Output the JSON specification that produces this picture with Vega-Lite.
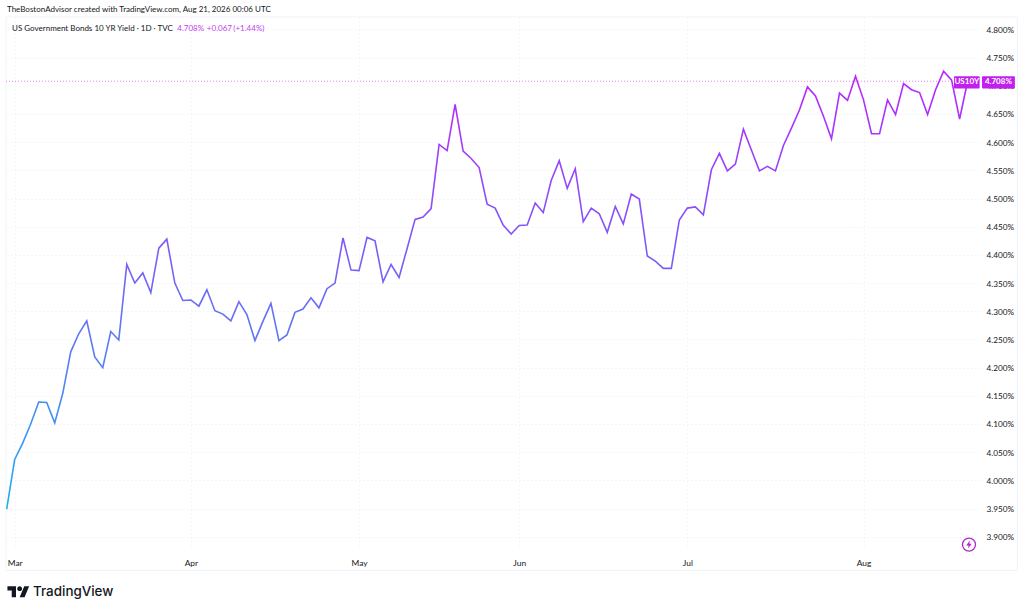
{
  "$schema": "https://vega.github.io/schema/vega-lite/v6.json",
  "width": 974,
  "height": 531,
  "autosize": "none",
  "padding": {"left": 6, "top": 17, "right": 44, "bottom": 64},
  "background": "#ffffff",
  "config": {"view": {"stroke": null}, "font": "Lato"},
  "title": {
    "text": "TheBostonAdvisor created with TradingView.com, Aug 21, 2026 00:06 UTC",
    "anchor": "start",
    "frame": "group",
    "dx": 1,
    "offset": 2.5,
    "font": "Lato",
    "fontSize": 8,
    "fontWeight": "normal",
    "color": "#131722"
  },
  "datasets": {
    "us10y": [
      {"bar": 0, "date": "2026-02-27", "yield": 3.949},
      {"bar": 1, "date": "2026-03-02", "yield": 4.037},
      {"bar": 2, "date": "2026-03-03", "yield": 4.066},
      {"bar": 3, "date": "2026-03-04", "yield": 4.1},
      {"bar": 4, "date": "2026-03-05", "yield": 4.139},
      {"bar": 5, "date": "2026-03-06", "yield": 4.138},
      {"bar": 6, "date": "2026-03-09", "yield": 4.102},
      {"bar": 7, "date": "2026-03-10", "yield": 4.154},
      {"bar": 8, "date": "2026-03-11", "yield": 4.228},
      {"bar": 9, "date": "2026-03-12", "yield": 4.26},
      {"bar": 10, "date": "2026-03-13", "yield": 4.283},
      {"bar": 11, "date": "2026-03-16", "yield": 4.219},
      {"bar": 12, "date": "2026-03-17", "yield": 4.2},
      {"bar": 13, "date": "2026-03-18", "yield": 4.264},
      {"bar": 14, "date": "2026-03-19", "yield": 4.249},
      {"bar": 15, "date": "2026-03-20", "yield": 4.383},
      {"bar": 16, "date": "2026-03-23", "yield": 4.35},
      {"bar": 17, "date": "2026-03-24", "yield": 4.368},
      {"bar": 18, "date": "2026-03-25", "yield": 4.333},
      {"bar": 19, "date": "2026-03-26", "yield": 4.412},
      {"bar": 20, "date": "2026-03-27", "yield": 4.428},
      {"bar": 21, "date": "2026-03-30", "yield": 4.35},
      {"bar": 22, "date": "2026-03-31", "yield": 4.319},
      {"bar": 23, "date": "2026-04-01", "yield": 4.32},
      {"bar": 24, "date": "2026-04-02", "yield": 4.309},
      {"bar": 25, "date": "2026-04-06", "yield": 4.338},
      {"bar": 26, "date": "2026-04-07", "yield": 4.301},
      {"bar": 27, "date": "2026-04-08", "yield": 4.295},
      {"bar": 28, "date": "2026-04-09", "yield": 4.283},
      {"bar": 29, "date": "2026-04-10", "yield": 4.317},
      {"bar": 30, "date": "2026-04-13", "yield": 4.294},
      {"bar": 31, "date": "2026-04-14", "yield": 4.248},
      {"bar": 32, "date": "2026-04-15", "yield": 4.282},
      {"bar": 33, "date": "2026-04-16", "yield": 4.314},
      {"bar": 34, "date": "2026-04-17", "yield": 4.248},
      {"bar": 35, "date": "2026-04-20", "yield": 4.258},
      {"bar": 36, "date": "2026-04-21", "yield": 4.298},
      {"bar": 37, "date": "2026-04-22", "yield": 4.304},
      {"bar": 38, "date": "2026-04-23", "yield": 4.324},
      {"bar": 39, "date": "2026-04-24", "yield": 4.306},
      {"bar": 40, "date": "2026-04-27", "yield": 4.34},
      {"bar": 41, "date": "2026-04-28", "yield": 4.35},
      {"bar": 42, "date": "2026-04-29", "yield": 4.43},
      {"bar": 43, "date": "2026-04-30", "yield": 4.373},
      {"bar": 44, "date": "2026-05-01", "yield": 4.372},
      {"bar": 45, "date": "2026-05-04", "yield": 4.431},
      {"bar": 46, "date": "2026-05-05", "yield": 4.425},
      {"bar": 47, "date": "2026-05-06", "yield": 4.352},
      {"bar": 48, "date": "2026-05-07", "yield": 4.383},
      {"bar": 49, "date": "2026-05-08", "yield": 4.36},
      {"bar": 50, "date": "2026-05-11", "yield": 4.411},
      {"bar": 51, "date": "2026-05-12", "yield": 4.463},
      {"bar": 52, "date": "2026-05-13", "yield": 4.467},
      {"bar": 53, "date": "2026-05-14", "yield": 4.482},
      {"bar": 54, "date": "2026-05-15", "yield": 4.596},
      {"bar": 55, "date": "2026-05-18", "yield": 4.585},
      {"bar": 56, "date": "2026-05-19", "yield": 4.667},
      {"bar": 57, "date": "2026-05-20", "yield": 4.584},
      {"bar": 58, "date": "2026-05-21", "yield": 4.571},
      {"bar": 59, "date": "2026-05-22", "yield": 4.555},
      {"bar": 60, "date": "2026-05-26", "yield": 4.49},
      {"bar": 61, "date": "2026-05-27", "yield": 4.483},
      {"bar": 62, "date": "2026-05-28", "yield": 4.453},
      {"bar": 63, "date": "2026-05-29", "yield": 4.437},
      {"bar": 64, "date": "2026-06-01", "yield": 4.452},
      {"bar": 65, "date": "2026-06-02", "yield": 4.453},
      {"bar": 66, "date": "2026-06-03", "yield": 4.492},
      {"bar": 67, "date": "2026-06-04", "yield": 4.475},
      {"bar": 68, "date": "2026-06-05", "yield": 4.532},
      {"bar": 69, "date": "2026-06-08", "yield": 4.567},
      {"bar": 70, "date": "2026-06-09", "yield": 4.518},
      {"bar": 71, "date": "2026-06-10", "yield": 4.553},
      {"bar": 72, "date": "2026-06-11", "yield": 4.459},
      {"bar": 73, "date": "2026-06-12", "yield": 4.483},
      {"bar": 74, "date": "2026-06-15", "yield": 4.473},
      {"bar": 75, "date": "2026-06-16", "yield": 4.44},
      {"bar": 76, "date": "2026-06-17", "yield": 4.486},
      {"bar": 77, "date": "2026-06-18", "yield": 4.455},
      {"bar": 78, "date": "2026-06-22", "yield": 4.508},
      {"bar": 79, "date": "2026-06-23", "yield": 4.499},
      {"bar": 80, "date": "2026-06-24", "yield": 4.398},
      {"bar": 81, "date": "2026-06-25", "yield": 4.389},
      {"bar": 82, "date": "2026-06-26", "yield": 4.376},
      {"bar": 83, "date": "2026-06-29", "yield": 4.376},
      {"bar": 84, "date": "2026-06-30", "yield": 4.462},
      {"bar": 85, "date": "2026-07-01", "yield": 4.483},
      {"bar": 86, "date": "2026-07-02", "yield": 4.485},
      {"bar": 87, "date": "2026-07-06", "yield": 4.471},
      {"bar": 88, "date": "2026-07-07", "yield": 4.551},
      {"bar": 89, "date": "2026-07-08", "yield": 4.58},
      {"bar": 90, "date": "2026-07-09", "yield": 4.549},
      {"bar": 91, "date": "2026-07-10", "yield": 4.561},
      {"bar": 92, "date": "2026-07-13", "yield": 4.623},
      {"bar": 93, "date": "2026-07-14", "yield": 4.586},
      {"bar": 94, "date": "2026-07-15", "yield": 4.549},
      {"bar": 95, "date": "2026-07-16", "yield": 4.557},
      {"bar": 96, "date": "2026-07-17", "yield": 4.549},
      {"bar": 97, "date": "2026-07-20", "yield": 4.594},
      {"bar": 98, "date": "2026-07-21", "yield": 4.625},
      {"bar": 99, "date": "2026-07-22", "yield": 4.657},
      {"bar": 100, "date": "2026-07-23", "yield": 4.698},
      {"bar": 101, "date": "2026-07-24", "yield": 4.682},
      {"bar": 102, "date": "2026-07-27", "yield": 4.646},
      {"bar": 103, "date": "2026-07-28", "yield": 4.606},
      {"bar": 104, "date": "2026-07-29", "yield": 4.687},
      {"bar": 105, "date": "2026-07-30", "yield": 4.674},
      {"bar": 106, "date": "2026-07-31", "yield": 4.717},
      {"bar": 107, "date": "2026-08-03", "yield": 4.675},
      {"bar": 108, "date": "2026-08-04", "yield": 4.615},
      {"bar": 109, "date": "2026-08-05", "yield": 4.615},
      {"bar": 110, "date": "2026-08-06", "yield": 4.675},
      {"bar": 111, "date": "2026-08-07", "yield": 4.649},
      {"bar": 112, "date": "2026-08-10", "yield": 4.704},
      {"bar": 113, "date": "2026-08-11", "yield": 4.693},
      {"bar": 114, "date": "2026-08-12", "yield": 4.688},
      {"bar": 115, "date": "2026-08-13", "yield": 4.649},
      {"bar": 116, "date": "2026-08-14", "yield": 4.693},
      {"bar": 117, "date": "2026-08-17", "yield": 4.726},
      {"bar": 118, "date": "2026-08-18", "yield": 4.71},
      {"bar": 119, "date": "2026-08-19", "yield": 4.641},
      {"bar": 120, "date": "2026-08-20", "yield": 4.708}
    ]
  },
  "encoding": {
    "x": {
      "field": "bar",
      "type": "quantitative",
      "scale": {"domain": [-0.084, 121.546], "nice": false, "zero": false},
      "axis": {
        "title": null,
        "values": [1, 23, 44, 64, 85, 107],
        "labelExpr": "datum.value == 1 ? 'Mar' : datum.value == 23 ? 'Apr' : datum.value == 44 ? 'May' : datum.value == 64 ? 'Jun' : datum.value == 85 ? 'Jul' : 'Aug'",
        "grid": true,
        "gridColor": "#E9ECF2",
        "gridDash": [1, 3],
        "domain": false,
        "ticks": false,
        "labelFont": "Lato",
        "labelFontSize": 8.4,
        "labelColor": "#131722",
        "labelPadding": 10,
        "labelFlush": false
      }
    },
    "y": {
      "field": "yield",
      "type": "quantitative",
      "scale": {"domain": [3.88, 4.822], "nice": false, "zero": false},
      "axis": {
        "title": null,
        "orient": "right",
        "values": [3.9, 3.95, 4.0, 4.05, 4.1, 4.15, 4.2, 4.25, 4.3, 4.35, 4.4, 4.45, 4.5, 4.55, 4.6, 4.65, 4.7, 4.75, 4.8],
        "labelExpr": "format(datum.value, '.3f') + '%'",
        "grid": true,
        "gridColor": "#E9ECF2",
        "gridDash": [1, 3],
        "domain": false,
        "ticks": false,
        "labelFont": "Lato",
        "labelFontSize": 8.2,
        "labelColor": "#131722",
        "labelPadding": 6,
        "labelOffset": 1
      }
    }
  },
  "layer": [
    {
      "data": {"values": [{"bar": -0.08, "bar2": 126.2, "yield": 4.822, "yield2": 3.84}]},
      "mark": {"type": "rect", "fill": null, "stroke": "#F0F3FA", "strokeWidth": 1},
      "encoding": {"x2": {"field": "bar2"}, "y2": {"field": "yield2"}}
    },
    {
      "data": {"values": [{"bar": -0.08, "bar2": 118.3, "yield": 4.708}]},
      "mark": {"type": "rule", "stroke": "#C21FEF", "strokeOpacity": 0.55, "strokeDash": [1, 2], "strokeWidth": 1},
      "encoding": {"x2": {"field": "bar2"}}
    },
    {
      "data": {"name": "us10y"},
      "mark": {
        "type": "line",
        "strokeWidth": 1.6,
        "strokeJoin": "miter",
        "color": {
          "gradient": "linear",
          "x1": 0, "y1": 1, "x2": 0, "y2": 0,
          "stops": [
            {"offset": 0, "color": "#22AEEF"},
            {"offset": 0.5, "color": "#6E68F6"},
            {"offset": 1, "color": "#BC24FF"}
          ]
        }
      }
    },
    {
      "data": {"values": [
        {"bar": 118.3, "bar2": 121.5, "yield": 4.717, "yield2": 4.695},
        {"bar": 121.8, "bar2": 125.9, "yield": 4.717, "yield2": 4.695}
      ]},
      "mark": {"type": "rect", "fill": "#C21FEF", "cornerRadius": 1},
      "encoding": {"x2": {"field": "bar2"}, "y2": {"field": "yield2"}}
    },
    {
      "data": {"values": [
        {"bar": 119.9, "yield": 4.708, "label": "US10Y"},
        {"bar": 123.85, "yield": 4.708, "label": "4.708%"}
      ]},
      "mark": {"type": "text", "align": "center", "baseline": "middle", "dy": 1, "font": "Lato", "fontSize": 8, "fontWeight": 700, "fill": "#ffffff"},
      "encoding": {"text": {"field": "label"}}
    },
    {
      "data": {"values": [{"bar": 0.67, "yield": 4.8025, "label": "US Government Bonds 10 YR Yield · 1D · TVC"}]},
      "mark": {"type": "text", "align": "left", "baseline": "middle", "dy": 1, "font": "Lato", "fontSize": 8, "fill": "#131722"},
      "encoding": {"text": {"field": "label"}}
    },
    {
      "data": {"values": [
        {"bar": 21.3, "yield": 4.8025, "label": "4.708%"},
        {"bar": 25, "yield": 4.8025, "label": "+0.067"},
        {"bar": 28.3, "yield": 4.8025, "label": "(+1.44%)"}
      ]},
      "mark": {"type": "text", "align": "left", "baseline": "middle", "dy": 1, "font": "Lato", "fontSize": 8, "fill": "#C73CF2"},
      "encoding": {"text": {"field": "label"}}
    },
    {
      "data": {"values": [{"bar": 3.29, "yield": 3.8025, "label": "TradingView"}]},
      "mark": {"type": "text", "align": "left", "baseline": "middle", "font": "Inter", "fontSize": 13.4, "fontWeight": 500, "fill": "#131722"},
      "encoding": {"text": {"field": "label"}}
    },
    {
      "data": {"values": [{"bar": 1.47, "yield": 3.8025}]},
      "mark": {
        "type": "point",
        "filled": true,
        "fill": "#131722",
        "opacity": 1,
        "size": 484,
        "shape": "M-.222 .5H-.611V-.111H-1V-.5H-.222ZM.556 .5H.111L.528 -.5H.972ZM-.111 -.278A.222 .222 0 1 0 .333 -.278A.222 .222 0 1 0 -.111 -.278Z"
      }
    },
    {
      "data": {"values": [{"bar": 120.17, "yield": 3.886}]},
      "mark": {"type": "point", "shape": "circle", "filled": false, "stroke": "#B02CC8", "strokeWidth": 1.3, "opacity": 1, "size": 169}
    },
    {
      "data": {"values": [{"bar": 120.17, "yield": 3.886}]},
      "mark": {
        "type": "point",
        "filled": true,
        "fill": "#B02CC8",
        "opacity": 1,
        "size": 64,
        "shape": "M.2 -1L-.7 .2H-.1L-.25 1L.7 -.2H.1Z"
      }
    }
  ]
}
